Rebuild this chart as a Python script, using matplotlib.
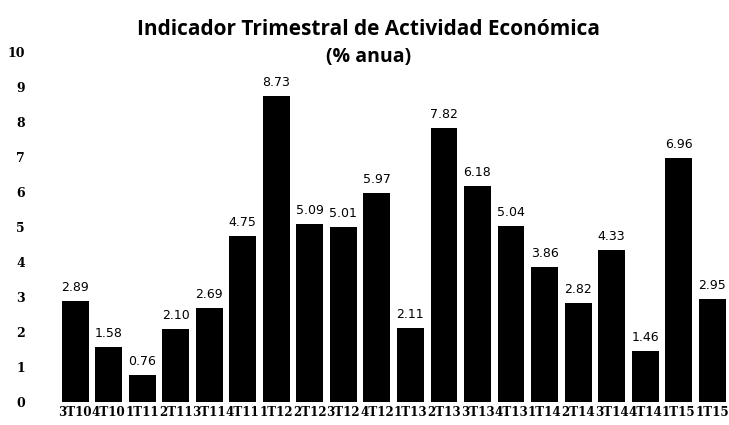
import matplotlib
matplotlib.use("Agg")
import matplotlib.pyplot as plt

# trimestres y variacion anual
trimestres = ["3T10", "4T10", "1T11", "2T11", "3T11", "4T11", "1T12", "2T12", "3T12", "4T12",
              "1T13", "2T13", "3T13", "4T13", "1T14", "2T14", "3T14", "4T14", "1T15", "1T15"]
valores = [2.89, 1.58, 0.76, 2.10, 2.69, 4.75, 8.73, 5.09, 5.01, 5.97,
           2.11, 7.82, 6.18, 5.04, 3.86, 2.82, 4.33, 1.46, 6.96, 2.95]
yticks = list(range(0, 11))

fig = plt.figure(figsize=(7.29, 4.25), dpi=100)
ax = fig.add_axes([0.08, 0.054, 0.92, 0.824])

x = list(range(len(valores)))
bars = ax.bar(x, valores, width=0.8, color="black")

for xi, v in zip(x, valores):
    ax.annotate("%.2f" % v, (xi, v), xytext=(0, 5), textcoords="offset points",
                ha="center", va="bottom", fontsize=9, family="DejaVu Sans")

ax.set_xlim(-0.5, len(valores) - 0.5)
ax.set_ylim(0, 10)
ax.set_yticks(yticks)
ax.set_yticklabels([str(t) for t in yticks], fontsize=9, fontweight="bold", family="DejaVu Serif")
ax.set_xticks(x)
ax.set_xticklabels(trimestres, fontsize=8.6, fontweight="bold", family="DejaVu Serif")
ax.tick_params(axis="y", length=0, pad=24)
ax.tick_params(axis="x", length=0, pad=3)
for s in ax.spines.values():
    s.set_visible(False)

fig.text(0.505, 0.93, "Indicador Trimestral de Actividad Económica", ha="center", va="center",
         fontsize=15, fontweight="bold", family="Open Sans")
fig.text(0.505, 0.865, "(% anua)", ha="center", va="center",
         fontsize=14, fontweight="bold", family="Open Sans")

fig.savefig("out.png", dpi=100, facecolor="white")
